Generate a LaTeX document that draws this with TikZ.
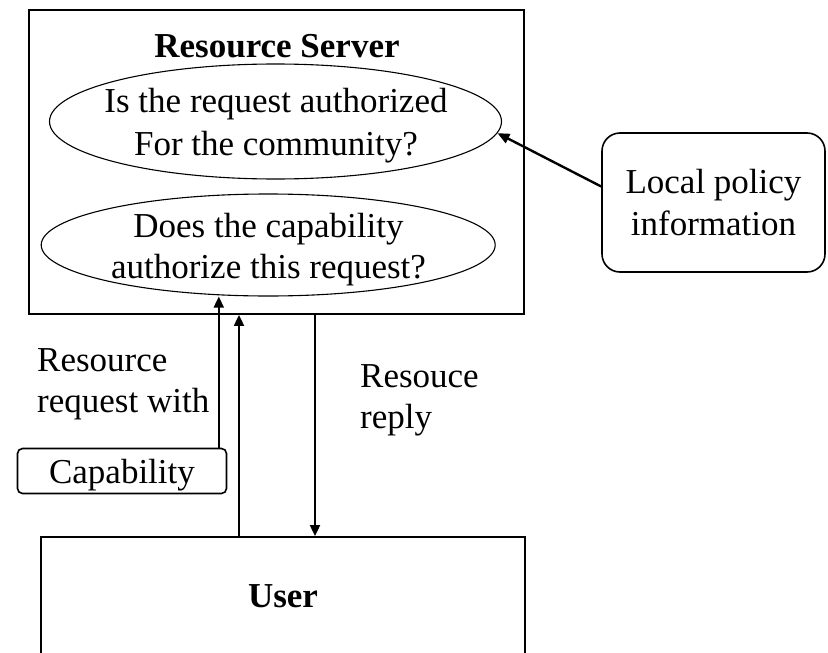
\documentclass[tikz,border=0pt]{standalone}
\usepackage{fontspec}
\setmainfont{Liberation Serif}
\usetikzlibrary{arrows.meta,shapes.geometric}

\begin{document}
\begin{tikzpicture}[x=1pt,y=-1pt,
  every node/.style={font=\fontsize{35}{42}\selectfont, inner sep=0pt, align=center},
  frame/.style={draw, line width=1.8pt, rectangle},
  oval/.style={draw, ellipse, line width=1.1pt},
  roundbox/.style={draw, line width=1.6pt, rounded corners=#1},
  link/.style={line width=1.9pt, -{Triangle[length=11pt,width=10pt]}},
  thicklink/.style={line width=2.4pt, -{Triangle[length=12pt,width=10pt]}},
]
\clip (0,0) rectangle (828,653);
\fill[white] (0,0) rectangle (828,653);

% Resource server with its two checks
\node[frame, minimum width=495, minimum height=304] (server) at (276.5,162) {};
\node[anchor=base, font=\fontsize{35}{42}\selectfont\bfseries] (title) at (277,57) {Resource Server};
\node[oval, minimum width=452, minimum height=115] (auth) at (275.5,121.5) {};
\node[font=\fontsize{35}{43}\selectfont] (authtxt) at (276,125.4) {Is the request authorized\\For the community?};
\node[oval, minimum width=454, minimum height=102] (cap) at (268.2,245) {};
\node[font=\fontsize{35}{41}\selectfont] (captxt) at (268.5,249.3) {Does the capability\\authorize this request?};

% Local policy store
\node[roundbox=18pt, minimum width=223, minimum height=139] (policy) at (713.5,202.5) {Local policy\\information};

% Capability token carried with the request
\node[roundbox=5pt, minimum width=209, minimum height=45, text depth=0pt] (token) at (122,471) {Capability};

% User
\node[frame, minimum width=484, minimum height=119, font=\fontsize{35}{42}\selectfont\bfseries] (user) at (283,596.5) {User};

% Message labels
\node[anchor=west, align=left, font=\fontsize{35}{41}\selectfont] (reqlbl) at (37,384.7) {Resource\\request with};
\node[anchor=west, align=left, font=\fontsize{35}{41}\selectfont] (replbl) at (360,400.7) {Resouce\\reply};

% Connectors
\coordinate (tokenout) at ([xshift=-8.5pt]token.north east);
\coordinate (reqout) at ([xshift=-44pt]user.north);
\coordinate (repin) at ([xshift=32pt]user.north);

\draw[thicklink] ([yshift=16pt]policy.west) -- (auth.-3);
\draw[link] (tokenout) -- (tokenout |- cap.south);
\draw[link] (reqout) -- (reqout |- server.south);
\draw[link] (repin |- server.south) -- (repin);
\end{tikzpicture}
\end{document}
